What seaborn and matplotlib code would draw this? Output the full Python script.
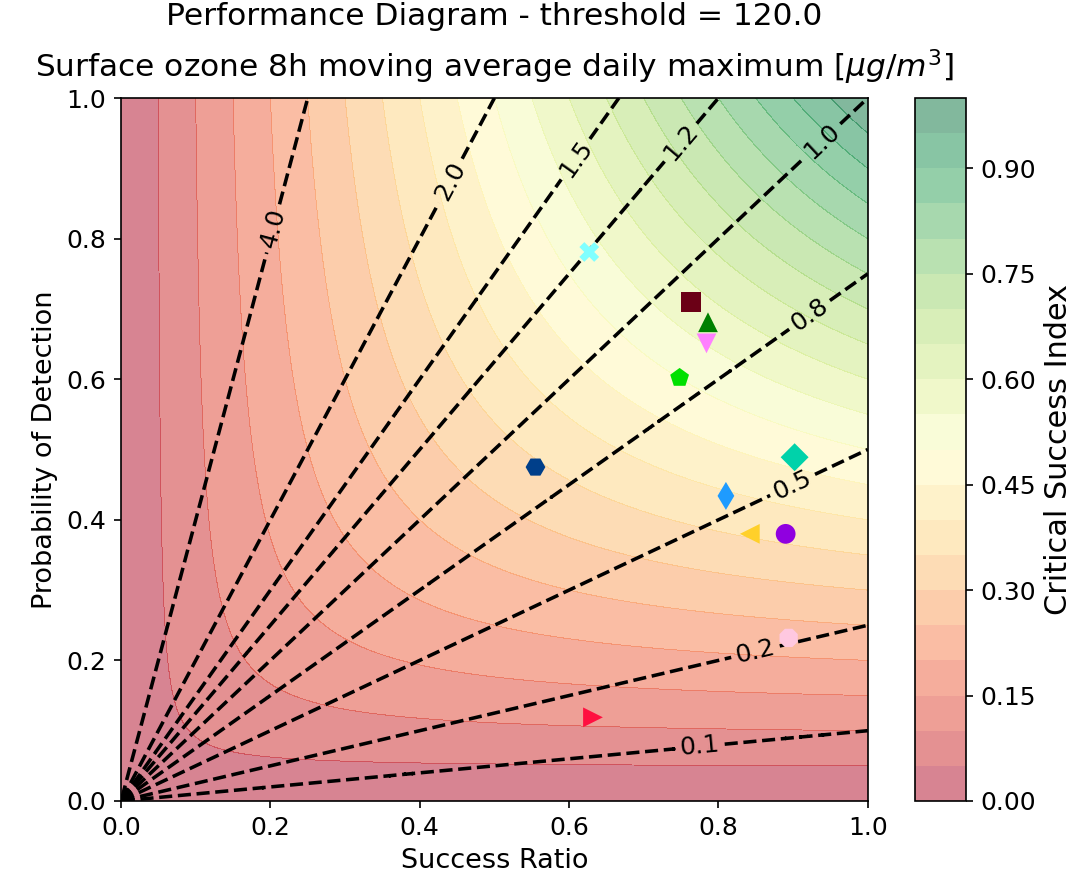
import numpy as np
import pandas as pd
import matplotlib
matplotlib.use("Agg")
import matplotlib.pyplot as plt
import seaborn as sns

# ---- data ----
models = ["m01", "m02", "m03", "m04", "m05", "m06", "m07", "m08", "m09", "m10", "m11", "m12"]
success_ratio = [0.627, 0.763, 0.786, 0.784, 0.748, 0.902, 0.555, 0.810, 0.842, 0.890, 0.894, 0.632]
pod = [0.781, 0.710, 0.681, 0.651, 0.602, 0.489, 0.475, 0.434, 0.380, 0.380, 0.232, 0.119]
marker_list = ["X", "s", "^", "v", "p", "D", "H", "d", "<", "o", "8", ">"]
color_list = ["#80ffff", "#6b0016", "#008000", "#ff80ff", "#00e000", "#00d2aa",
              "#003f8a", "#1e9bff", "#ffd02a", "#9000e0", "#ffc8e0", "#ff1040"]
bias_levels = [0.1, 0.25, 0.5, 0.75, 1.0, 1.25, 1.5, 2.0, 4.0]
bias_label_pos = [(0.775, 0.08), (0.849, 0.215), (0.896, 0.457), (0.925, 0.687),
                  (0.938, 0.94), (0.758, 0.929), (0.61, 0.912), (0.447, 0.879), (0.202, 0.815)]
csi_levels = np.arange(0, 1.0001, 0.05)
title = "Performance Diagram - threshold = 120.0\nSurface ozone 8h moving average daily maximum [$\\mu g/m^3$]"

df = pd.DataFrame({"model": models, "sr": success_ratio, "pod": pod})

fig = plt.figure(figsize=(1074 / 150, 888 / 150), dpi=150)
ax = fig.add_axes([0.1127, 0.098, 0.6953, 0.7916])
cax = fig.add_axes([0.852, 0.098, 0.047, 0.7916])

grid = np.linspace(0, 1, 1001)
sr_g, pod_g = np.meshgrid(grid, grid)
with np.errstate(divide="ignore", invalid="ignore"):
    bias = pod_g / sr_g
    csi = 1.0 / (1.0 / sr_g + 1.0 / pod_g - 1.0)
csi = np.nan_to_num(csi, nan=0.0)
bias = np.ma.masked_invalid(bias)

cf = ax.contourf(sr_g, pod_g, csi, levels=csi_levels, cmap="RdYlGn", alpha=0.5)
bc = ax.contour(sr_g, pod_g, bias, levels=bias_levels, colors="k", linestyles="dashed", linewidths=1.7)
ax.clabel(bc, fmt="%1.1f", manual=bias_label_pos, fontsize=12)

sns.scatterplot(data=df, x="sr", y="pod", hue="model", style="model",
                palette=dict(zip(models, color_list)), markers=dict(zip(models, marker_list)),
                s=90, edgecolor="none", legend=False, ax=ax, zorder=5)

ax.set_xlim(0, 1)
ax.set_ylim(0, 1)
ax.set_xlabel("Success Ratio", fontsize=13)
ax.set_ylabel("Probability of Detection", fontsize=13)
ax.set_title(title, fontsize=15, linespacing=1.55, pad=10)
ax.tick_params(labelsize=12)

cb = fig.colorbar(cf, cax=cax)
cb.set_label("Critical Success Index", fontsize=14.5, labelpad=4)
cb.set_ticks([0.0, 0.15, 0.30, 0.45, 0.60, 0.75, 0.90])
cb.ax.tick_params(labelsize=12)

fig.savefig("out.png", dpi=150)
